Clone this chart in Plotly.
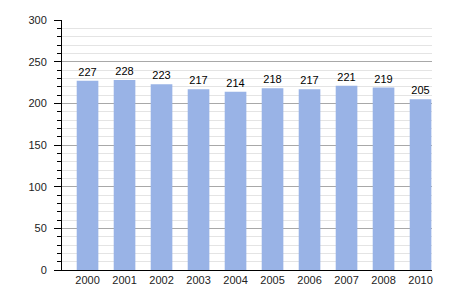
import plotly.graph_objects as go

years = ["2000", "2001", "2002", "2003", "2004", "2005", "2006", "2007", "2008", "2010"]
values = [227, 228, 223, 217, 214, 218, 217, 221, 219, 205]

fig = go.Figure()
fig.add_trace(go.Bar(
    x=years, y=values,
    text=[str(v) for v in values],
    textposition="outside",
    textfont=dict(family="Liberation Sans, Arial", size=11, color="black"),
    marker=dict(color="#99b3e6", line=dict(width=0)),
    width=0.585,
    cliponaxis=False,
))
fig.update_layout(
    width=450, height=300,
    margin=dict(l=62, r=18, t=20, b=30),
    plot_bgcolor="white", paper_bgcolor="white",
    showlegend=False,
    font=dict(family="Liberation Sans, Arial", size=11, color="#222"),
    xaxis=dict(type="category", range=[-0.69, 9.31], showline=True, linecolor="black", linewidth=1,
               ticks="", showgrid=False, tickfont=dict(size=11, color="#222")),
    yaxis=dict(range=[0, 300], tick0=0, dtick=50, showline=True, linecolor="black",
               linewidth=1, ticks="outside", ticklen=7, tickcolor="black",
               ticklabelstandoff=5,
               gridcolor="#a8a8a8", gridwidth=1, zeroline=False,
               tickfont=dict(size=11, color="#222"),
               minor=dict(dtick=10, showgrid=True, gridcolor="#e4e4e4",
                          ticks="outside", ticklen=4, tickcolor="black")),
)
fig.write_html("out.html")
